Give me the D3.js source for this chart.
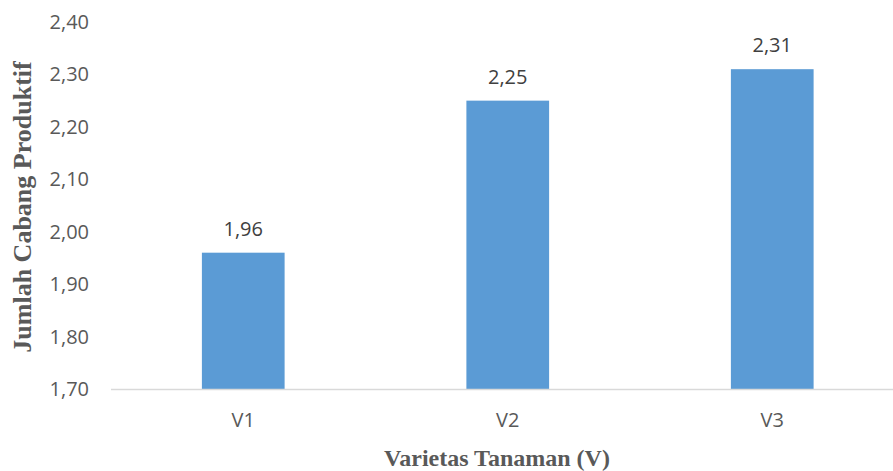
<!DOCTYPE html>
<html>
<head>
<meta charset="utf-8">
<script src="https://cdn.jsdelivr.net/npm/d3@7"></script>
<style>
  html, body { margin: 0; padding: 0; background: #fff; }
  svg { display: block; }
</style>
</head>
<body>
<svg id="chart" width="893" height="471"></svg>
<script>
const categories = ["V1", "V2", "V3"];
const values = [1.96, 2.25, 2.31];
const valueLabels = ["1,96", "2,25", "2,31"];
const yTicks = [1.70, 1.80, 1.90, 2.00, 2.10, 2.20, 2.30, 2.40];
const yTickLabels = ["1,70", "1,80", "1,90", "2,00", "2,10", "2,20", "2,30", "2,40"];
const xTitle = "Varietas Tanaman (V)";
const yTitle = "Jumlah Cabang Produktif";

(function () {
const svg = d3.select("#chart");
const plotLeft = 111, plotRight = 904.5, plotTop = 22, plotBottom = 389;

const x = d3.scaleBand().domain(categories).range([plotLeft, plotRight])
  .paddingInner(0.6873).paddingOuter(0.34365);
const y = d3.scaleLinear().domain([1.7, 2.4]).range([plotBottom, plotTop]);

const tickFont = "'Open Sans', 'Liberation Sans', sans-serif";
const tickSize = 20;

// y tick labels
svg.append("g").selectAll("text").data(yTicks).join("text")
  .attr("x", 89).attr("y", d => y(d)).attr("dy", "0.35em")
  .attr("text-anchor", "end")
  .attr("font-family", tickFont).attr("font-size", tickSize).attr("fill", "#595959")
  .text((d, i) => yTickLabels[i]);

// bars
svg.append("g").selectAll("rect").data(values).join("rect")
  .attr("x", (d, i) => x(categories[i]))
  .attr("width", x.bandwidth())
  .attr("y", d => y(d))
  .attr("height", d => y(1.7) - y(d))
  .attr("fill", "#5b9bd5");

// x axis line
svg.append("line").attr("x1", plotLeft).attr("x2", plotRight)
  .attr("y1", plotBottom + 0.5).attr("y2", plotBottom + 0.5)
  .attr("stroke", "#d9d9d9").attr("stroke-width", 1.3);

// value labels
svg.append("g").selectAll("text").data(values).join("text")
  .attr("x", (d, i) => x(categories[i]) + x.bandwidth() / 2)
  .attr("y", d => y(d) - 17)
  .attr("text-anchor", "middle")
  .attr("font-family", tickFont).attr("font-size", tickSize).attr("fill", "#404040")
  .text((d, i) => valueLabels[i]);

// category labels
svg.append("g").selectAll("text").data(categories).join("text")
  .attr("x", d => x(d) + x.bandwidth() / 2)
  .attr("y", 420).attr("dy", "0.35em")
  .attr("text-anchor", "middle")
  .attr("font-family", tickFont).attr("font-size", tickSize).attr("fill", "#595959")
  .text(d => d);

// axis titles
svg.append("text")
  .attr("x", 497).attr("y", 466)
  .attr("text-anchor", "middle")
  .attr("font-family", "'Liberation Serif', 'Times New Roman', serif")
  .attr("font-weight", "bold").attr("font-size", 24).attr("fill", "#595959")
  .text(xTitle);

svg.append("text")
  .attr("transform", "translate(31,207) rotate(-90)")
  .attr("text-anchor", "middle")
  .attr("font-family", "'Liberation Serif', 'Times New Roman', serif")
  .attr("font-weight", "bold").attr("font-size", 26).attr("fill", "#595959")
  .text(yTitle);
})();
</script>
</body>
</html>
